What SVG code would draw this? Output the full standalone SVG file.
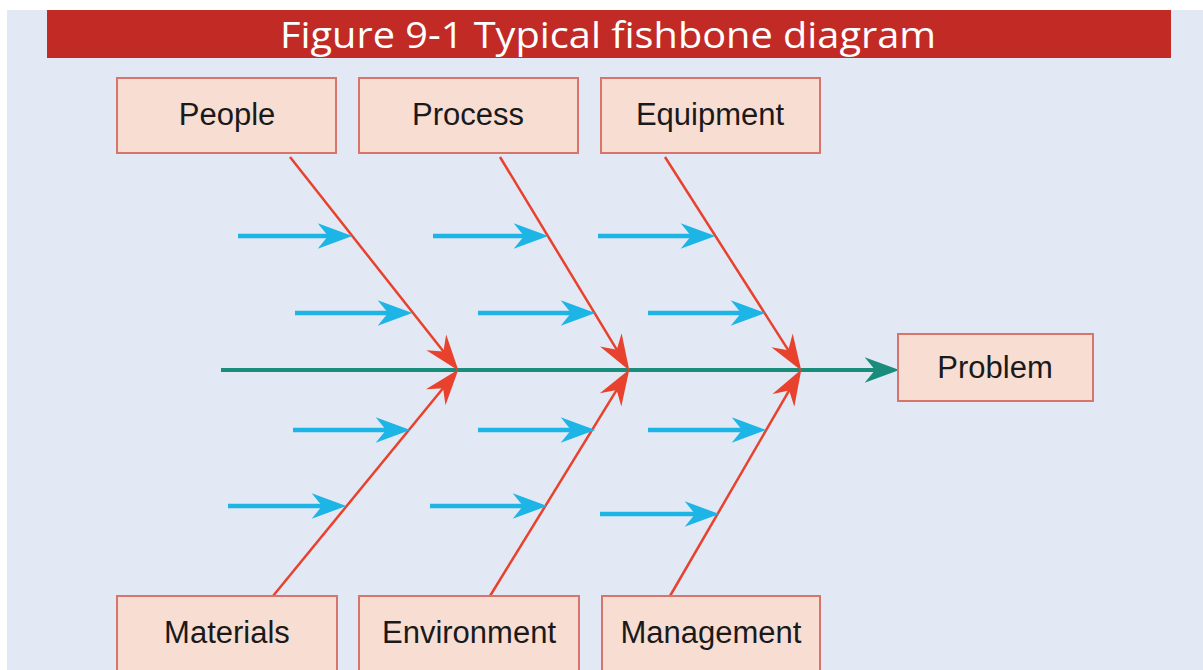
<svg xmlns="http://www.w3.org/2000/svg" width="1203" height="670" viewBox="0 0 1203 670">
<defs>
<style>
.box{fill:#f8ddd3;stroke:#d7756c;stroke-width:2}
.lbl{font-family:"Liberation Sans",Arial,sans-serif;font-size:31px;fill:#1a1a1a;text-anchor:middle}
.bone{stroke:#e8412d;stroke-width:2.5;fill:none}
.cause{stroke:#1db4e6;stroke-width:4.5;fill:none}
.spine{stroke:#1a8c7c;stroke-width:4;fill:none}
</style>
<marker id="mRed" markerUnits="userSpaceOnUse" markerWidth="40" markerHeight="30" viewBox="-24 -14 38 28" refX="0" refY="0" orient="auto" overflow="visible">
<path d="M12,0 L-22,-12 L-11,0 L-22,12 Z" fill="#e8412d"/>
</marker>
<marker id="mBlue" markerUnits="userSpaceOnUse" markerWidth="40" markerHeight="30" viewBox="-17 -13 34 26" refX="0" refY="0" orient="auto" overflow="visible">
<path d="M15,0 L-15,-11 L-6,0 L-15,11 Z" fill="#1db4e6"/>
</marker>
<marker id="mTeal" markerUnits="userSpaceOnUse" markerWidth="40" markerHeight="30" viewBox="-17 -13 34 26" refX="0" refY="0" orient="auto" overflow="visible">
<path d="M15,0 L-15,-11 L-6,0 L-15,11 Z" fill="#1a8c7c"/>
</marker>
</defs>
<rect x="0" y="0" width="1203" height="670" fill="#ffffff"/>
<rect x="7" y="10" width="1196" height="660" fill="#e2e9f4"/>
<g id="title">
<rect x="47" y="10" width="1124" height="48" fill="#c22a25"/>
<text x="608" y="48" font-family="'Open Sans','Noto Sans',sans-serif" font-size="37" font-weight="500" fill="#ffffff" text-anchor="middle" textLength="656" lengthAdjust="spacingAndGlyphs">Figure 9-1 Typical fishbone diagram</text>
</g>
<g id="connectors">
<line class="spine" x1="221" y1="370" x2="882" y2="370" marker-end="url(#mTeal)"/>
<line class="bone" x1="290" y1="157" x2="450.6" y2="360.6" marker-end="url(#mRed)"/>
<line class="bone" x1="500" y1="157" x2="622.8" y2="359.7" marker-end="url(#mRed)"/>
<line class="bone" x1="665" y1="157" x2="794.5" y2="359.9" marker-end="url(#mRed)"/>
<line class="bone" x1="273" y1="596" x2="450.4" y2="379.3" marker-end="url(#mRed)"/>
<line class="bone" x1="490" y1="596" x2="622.7" y2="380.2" marker-end="url(#mRed)"/>
<line class="bone" x1="670" y1="596" x2="795" y2="380.4" marker-end="url(#mRed)"/>
<line class="cause" x1="238" y1="236" x2="335" y2="236" marker-end="url(#mBlue)"/>
<line class="cause" x1="433" y1="236" x2="531" y2="236" marker-end="url(#mBlue)"/>
<line class="cause" x1="598" y1="236" x2="698" y2="236" marker-end="url(#mBlue)"/>
<line class="cause" x1="295" y1="313" x2="395" y2="313" marker-end="url(#mBlue)"/>
<line class="cause" x1="478" y1="313" x2="578" y2="313" marker-end="url(#mBlue)"/>
<line class="cause" x1="648" y1="313" x2="748" y2="313" marker-end="url(#mBlue)"/>
<line class="cause" x1="293" y1="430" x2="393" y2="430" marker-end="url(#mBlue)"/>
<line class="cause" x1="478" y1="430" x2="578" y2="430" marker-end="url(#mBlue)"/>
<line class="cause" x1="648" y1="430" x2="749" y2="430" marker-end="url(#mBlue)"/>
<line class="cause" x1="228" y1="506" x2="329" y2="506" marker-end="url(#mBlue)"/>
<line class="cause" x1="430" y1="506" x2="530" y2="506" marker-end="url(#mBlue)"/>
<line class="cause" x1="600" y1="514" x2="702" y2="514" marker-end="url(#mBlue)"/>
</g>
<g id="people"><rect class="box" x="117" y="78" width="219" height="75"/><text class="lbl" x="227" y="125">People</text></g>
<g id="process"><rect class="box" x="359" y="78" width="219" height="75"/><text class="lbl" x="468" y="125">Process</text></g>
<g id="equipment"><rect class="box" x="601" y="78" width="219" height="75"/><text class="lbl" x="710" y="125">Equipment</text></g>
<g id="materials"><rect class="box" x="117" y="596" width="220" height="76"/><text class="lbl" x="227" y="643">Materials</text></g>
<g id="environment"><rect class="box" x="359" y="596" width="220" height="76"/><text class="lbl" x="469" y="643">Environment</text></g>
<g id="management"><rect class="box" x="602" y="596" width="218" height="76"/><text class="lbl" x="711" y="643">Management</text></g>
<g id="problem"><rect class="box" x="898" y="334" width="195" height="67"/><text class="lbl" x="995" y="378">Problem</text></g>
</svg>
